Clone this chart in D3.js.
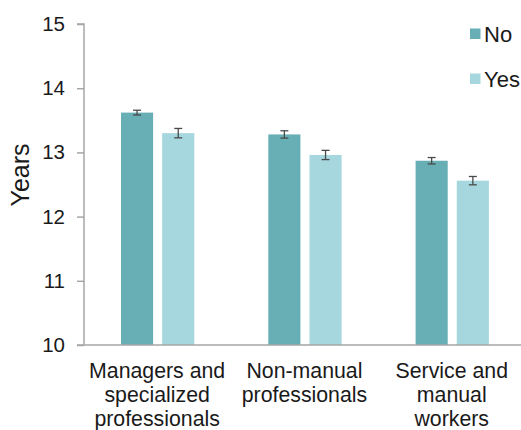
<!DOCTYPE html>
<html>
<head>
<meta charset="utf-8">
<script src="https://cdn.jsdelivr.net/npm/d3@7"></script>
<style>
  body { margin: 0; background: #fff; }
  svg { display: block; font-family: "Liberation Sans", Arial, sans-serif; }
</style>
</head>
<body>
<svg id="chart" width="521" height="430"></svg>
<script>
// ---- data ----
const categories = [
  ["Managers and", "specialized", "professionals"],
  ["Non-manual", "professionals"],
  ["Service and", "manual", "workers"]
];
const seriesNames = ["No", "Yes"];
const noValues = [13.62, 13.28, 12.87];
const yesValues = [13.30, 12.96, 12.56];
const noErrors = [0.037, 0.057, 0.05];
const yesErrors = [0.073, 0.072, 0.065];
const yTicks = [10, 11, 12, 13, 14, 15];
const yLabel = "Years";
const colors = { No: "#68aeb5", Yes: "#a6d7df" };

// ---- layout ----
const svg = d3.select("#chart");
const x0Left = 84, yTop = 24, yBottom = 345;
const step = 147.3;
const catKeys = categories.map(c => c.join(" "));

const y = d3.scaleLinear().domain([10, 15]).range([yBottom, yTop]);
const x0 = d3.scaleBand().domain(catKeys).range([x0Left, x0Left + step * 3]).padding(0);
const x1 = d3.scaleBand().domain(seriesNames).range([37, step - 37]).paddingInner(0.22).paddingOuter(0);

const data = catKeys.map((k, i) => ({
  key: k,
  values: [
    { s: "No", v: noValues[i], e: noErrors[i] },
    { s: "Yes", v: yesValues[i], e: yesErrors[i] }
  ]
}));

// y axis
const yAxis = d3.axisLeft(y).tickValues(yTicks).tickSize(7).tickPadding(12).tickFormat(d3.format("d"));
const gy = svg.append("g").attr("transform", `translate(${x0Left},0)`).call(yAxis);
gy.select(".domain").attr("stroke", "#a6a6a6").attr("stroke-width", 1.5).attr("d", `M-7,${yTop}H0V${yBottom}`);
gy.selectAll(".tick line").attr("stroke", "#a6a6a6").attr("stroke-width", 1.5);
gy.selectAll(".tick text").attr("font-size", 20.5).attr("fill", "#1a1a1a").attr("font-family", "Liberation Sans, Arial, sans-serif");

// bars
const groups = svg.append("g").selectAll("g").data(data).join("g")
  .attr("transform", d => `translate(${x0(d.key)},0)`);
groups.selectAll("rect").data(d => d.values).join("rect")
  .attr("x", d => x1(d.s))
  .attr("y", d => y(d.v))
  .attr("width", x1.bandwidth())
  .attr("height", d => y(10) - y(d.v))
  .attr("fill", d => colors[d.s]);

// error bars
const eb = groups.selectAll("g.err").data(d => d.values).join("g").attr("class", "err")
  .attr("stroke", "#4a4a4a").attr("stroke-width", 1.3);
eb.append("line")
  .attr("x1", d => x1(d.s) + x1.bandwidth() / 2).attr("x2", d => x1(d.s) + x1.bandwidth() / 2)
  .attr("y1", d => y(d.v + d.e)).attr("y2", d => y(d.v - d.e));
eb.append("line")
  .attr("x1", d => x1(d.s) + x1.bandwidth() / 2 - 4).attr("x2", d => x1(d.s) + x1.bandwidth() / 2 + 4)
  .attr("y1", d => y(d.v + d.e)).attr("y2", d => y(d.v + d.e));
eb.append("line")
  .attr("x1", d => x1(d.s) + x1.bandwidth() / 2 - 4).attr("x2", d => x1(d.s) + x1.bandwidth() / 2 + 4)
  .attr("y1", d => y(d.v - d.e)).attr("y2", d => y(d.v - d.e));

// x axis line
svg.append("line").attr("x1", x0Left - 7).attr("x2", 521).attr("y1", yBottom).attr("y2", yBottom)
  .attr("stroke", "#a6a6a6").attr("stroke-width", 1.5);

// x labels
const xl = svg.append("g").selectAll("text").data(categories).join("text")
  .attr("x", (d, i) => x0(catKeys[i]) + step / 2 - 0.5)
  .attr("y", 378.3)
  .attr("text-anchor", "middle")
  .attr("font-size", 21.3)
  .attr("fill", "#1a1a1a");
xl.selectAll("tspan").data(d => d).join("tspan")
  .attr("x", function() { return d3.select(this.parentNode).attr("x"); })
  .attr("dy", (d, i) => i === 0 ? 0 : 24)
  .text(d => d);

// y label
svg.append("text")
  .attr("transform", `translate(28.5,175) rotate(-90)`)
  .attr("text-anchor", "middle")
  .attr("font-size", 25)
  .attr("fill", "#1a1a1a")
  .text(yLabel);

// legend
const lg = svg.append("g").selectAll("g").data(seriesNames).join("g")
  .attr("transform", (d, i) => `translate(470,${28.5 + i * 45})`);
lg.append("rect").attr("width", 10.5).attr("height", 10.5).attr("fill", d => colors[d]);
lg.append("text").attr("x", 14).attr("y", 13.5).attr("font-size", 22).attr("fill", "#1a1a1a").text(d => d);
</script>
</body>
</html>
